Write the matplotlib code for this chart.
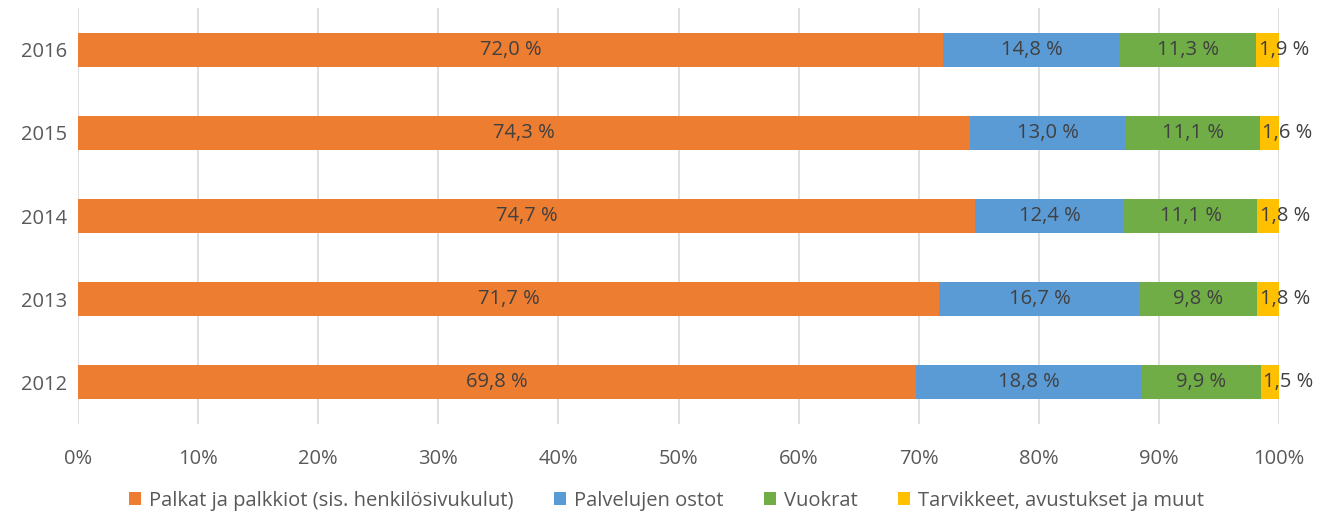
import matplotlib.pyplot as plt
import numpy as np

years = ["2012", "2013", "2014", "2015", "2016"]
palkat = [69.8, 71.7, 74.7, 74.3, 72.0]
palvelut = [18.8, 16.7, 12.4, 13.0, 14.8]
vuokrat = [9.9, 9.8, 11.1, 11.1, 11.3]
tarvikkeet = [1.5, 1.8, 1.8, 1.6, 1.9]
series_names = ["Palkat ja palkkiot (sis. henkilösivukulut)", "Palvelujen ostot",
                "Vuokrat", "Tarvikkeet, avustukset ja muut"]
colors = ["#ED7D31", "#5B9BD5", "#70AD47", "#FFC000"]

plt.rcParams['font.family'] = ['Open Sans', 'DejaVu Sans']
FS = 14.5

fig = plt.figure(figsize=(13.31, 5.17), dpi=100)
ax = fig.add_axes([78 / 1331, 1 - 424 / 517, 1201 / 1331, 416 / 517])

y = np.arange(len(years))
left = np.zeros(len(years))
data = [palkat, palvelut, vuokrat, tarvikkeet]
for i, (vals, col, name) in enumerate(zip(data, colors, series_names)):
    vals = np.array(vals)
    ax.barh(y, vals, left=left, height=0.41, color=col, label=name, zorder=2)
    for yi, l, v in zip(y, left, vals):
        txt = f"{v:.1f} %".replace(".", ",")
        if i == 3:
            ax.text(l + 0.2, yi, txt, ha='left', va='center', fontsize=FS, color='#404040', zorder=3)
        else:
            ax.text(l + v / 2, yi, txt, ha='center', va='center', fontsize=FS, color='#404040', zorder=3)
    left += vals

ax.set_xlim(0, 100)
ax.set_ylim(-0.5, 4.5)
ax.set_yticks(y)
ax.set_yticklabels(years)
ax.set_xticks(np.arange(0, 101, 10))
ax.set_xticklabels([f"{t}%" for t in range(0, 101, 10)])
ax.tick_params(axis='both', length=0, labelsize=FS, colors='#595959')
ax.tick_params(axis='x', pad=18)
ax.tick_params(axis='y', pad=8)
ax.grid(axis='x', color='#D9D9D9', linewidth=1.2, zorder=0)
for s in ax.spines.values():
    s.set_visible(False)

ax.legend(loc='center', bbox_to_anchor=(0.49, -0.185), ncol=4, frameon=False,
          fontsize=FS, handlelength=0.6, handleheight=0.6, columnspacing=2.0,
          handletextpad=0.4, labelcolor='#595959')

fig.savefig("out.png", dpi=100)
